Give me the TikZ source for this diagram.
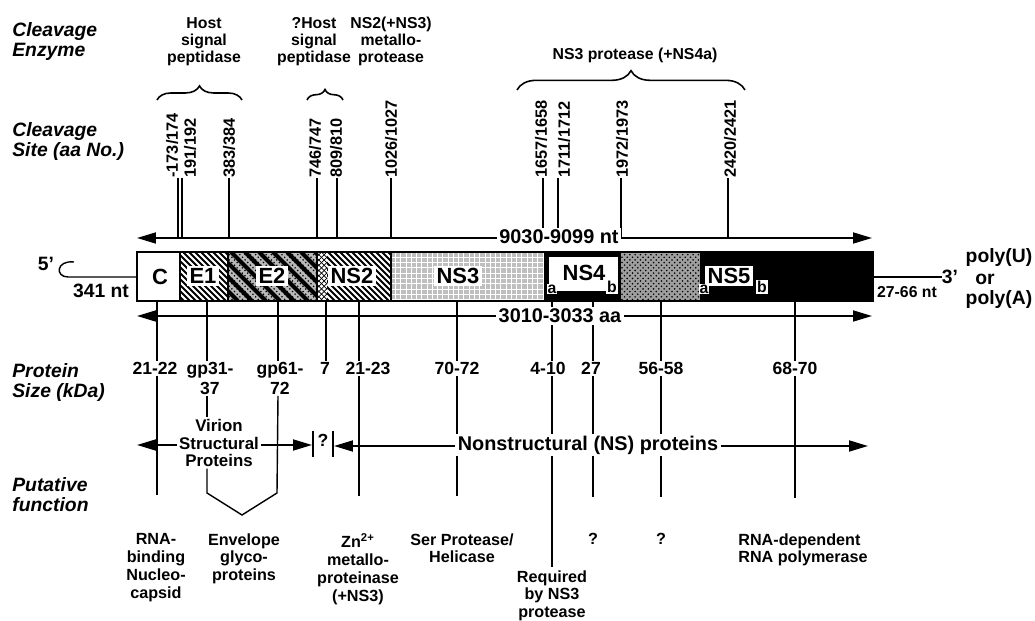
\documentclass[tikz,border=0pt]{standalone}
\usepackage{fontspec}
\setmainfont{Liberation Sans}
\usetikzlibrary{arrows.meta,positioning,decorations.pathreplacing,patterns}

\begin{document}
\begin{tikzpicture}[
    x=0.02cm, y=-0.02cm,
    every node/.style={font=\bfseries\fontsize{11}{12}\selectfont, inner sep=0pt},
    rowlabel/.style={anchor=north west, align=left, font=\bfseries\itshape\fontsize{11}{11.6}\selectfont},
    enzyme/.style={anchor=north, align=center, font=\bfseries\fontsize{9}{9.7}\selectfont},
    sitelabel/.style={rotate=90, anchor=west, font=\bfseries\fontsize{9.3}{10}\selectfont},
    genelabel/.style={fill=white, inner sep=1.5pt, font=\bfseries\fontsize{12.5}{13}\selectfont},
    sublabel/.style={fill=white, inner sep=0.6pt, font=\bfseries\fontsize{9}{9}\selectfont},
    sizelabel/.style={anchor=north, align=center, fill=white, inner sep=0.5pt, font=\bfseries\fontsize{10}{11.4}\selectfont},
    funclabel/.style={anchor=north, align=center, font=\bfseries\fontsize{9.2}{10.2}\selectfont},
    spanlabel/.style={fill=white, inner xsep=1.5pt, inner ysep=1pt, font=\bfseries\fontsize{11.3}{12}\selectfont},
    tick/.style={line width=0.8pt},
    span/.style={line width=1pt, {Triangle[length=3.8mm,width=2.2mm]}-{Triangle[length=3.8mm,width=2.2mm]}},
  ]
    \pgfmathsetmacro{\barT}{252}
    \pgfmathsetmacro{\barB}{301}
    \useasboundingbox (0,0) rectangle (1035,621);

    % ---- row titles ----
    \node[rowlabel] (enzRow)  at (12,22)  {Cleavage\\Enzyme};
    \node[rowlabel] (siteRow) at (12,122) {Cleavage\\Site (aa No.)};
    \node[rowlabel] (sizeRow) at (12,363) {Protein\\Size (kDa)};
    \node[rowlabel] (funcRow) at (12,477) {Putative\\function};

    % ---- cleavage enzymes ----
    \node[enzyme] (hostSP)  at (204,17) {Host\\signal\\peptidase};
    \node[enzyme] (qhostSP) at (314,17) {?Host\\signal\\peptidase};
    \node[enzyme] (ns2Pro)  at (391,17) {NS2(+NS3)\\metallo-\\protease};
    \node[enzyme] (ns3Pro)  at (635,48) {NS3 protease (+NS4a)};
    \coordinate (hostL) at (157,100);  \coordinate (hostR) at (242,100);
    \coordinate (qhostL) at (307,100); \coordinate (qhostR) at (343,100);
    \coordinate (ns3L) at (517,90);    \coordinate (ns3R) at (745,90);
    \draw[decorate, decoration={brace, amplitude=8pt}, line width=0.9pt] (hostL) -- (hostR);
    \draw[decorate, decoration={brace, amplitude=6pt}, line width=0.9pt] (qhostL) -- (qhostR);
    \draw[decorate, decoration={brace, amplitude=11pt}, line width=0.9pt] (ns3L) -- (ns3R);

    % ---- cleavage sites ----
    \coordinate (ntL) at (137,238);
    \coordinate (ntR) at (872,238);
    \foreach \sx/\lx/\ta/\tb/\nm in {178/172/-173/174/c1, 182/190/191/192/c2,
        229/229/383/384/c3, 317/315/746/747/c4, 337/336/809/810/c5,
        391/391/1026/1027/c6, 543/541/1657/1658/c7, 558/564/1711/1712/c8,
        621/622/1972/1973/c9, 728/730/2420/2421/c10}{
      \node[sitelabel] (\nm) at (\lx,178) {\ta/\tb};
      \draw[tick] (\nm.west -| \sx,0) -- (\sx,0 |- ntL);
    }
    \draw[span] (ntL) -- (ntR);
    \node[spanlabel] (ntLab) at (559,237) {9030-9099 nt};

    % ---- genome bar ----
    \fill[white] (137,\barT) rectangle (180,\barB);
    \begin{scope}
      \clip (180,\barT) rectangle (228,\barB);
      \foreach \s in {135,141,...,230}
        \draw[line width=1.1pt] (\s,\barT) -- ++(49,49);
    \end{scope}
    \fill[gray!55] (228,\barT) rectangle (317,\barB);
    \fill[pattern=crosshatch dots] (228,\barT) rectangle (317,\barB);
    \begin{scope}
      \clip (228,\barT) rectangle (317,\barB);
      \foreach \s in {175,189,...,320}
        \draw[line width=2.4pt] (\s,\barT) -- ++(49,49);
    \end{scope}
    \fill[pattern=north east lines] (317,\barT) rectangle (327,\barB);
    \fill[pattern=north west lines] (317,\barT) rectangle (327,\barB);
    \begin{scope}
      \clip (327,\barT) rectangle (391,\barB);
      \foreach \s in {280,286,...,395}
        \draw[line width=1.1pt] (\s,\barT) -- ++(49,49);
    \end{scope}
    \fill[gray!50] (391,\barT) rectangle (545,\barB);
    \fill[pattern=grid, pattern color=white] (391,\barT) rectangle (545,\barB);
    \fill[black] (545,\barT) rectangle (620,\barB);
    \fill[white] (549,257) rectangle (618,291);
    \fill[gray!75] (620,\barT) rectangle (700,\barB);
    \fill[pattern=crosshatch dots] (620,\barT) rectangle (700,\barB);
    \fill[black] (700,\barT) rectangle (873,\barB);
    \draw[line width=1pt] (137,\barT) rectangle (873,\barB);
    \foreach \s in {180,228,317,391,545,620}
      \draw[line width=0.6pt] (\s,\barT) -- (\s,\barB);

    \node[genelabel] (gC)   at (160,277) {C};
    \node[genelabel] (gE1)  at (203,276) {E1};
    \node[genelabel] (gE2)  at (272,276) {E2};
    \node[genelabel] (gNS2) at (352,276) {NS2};
    \node[genelabel] (gNS3) at (458,276) {NS3};
    \node[genelabel] (gNS4) at (584,273) {NS4};
    \node[sublabel] (gNS4a) at (552,289) {a};
    \node[sublabel] (gNS4b) at (612,287) {b};
    \node[genelabel] (gNS5) at (729,276) {NS5};
    \node[sublabel] (gNS5a) at (704,289) {a};
    \node[sublabel] (gNS5b) at (762,287) {b};

    % ---- ends ----
    \coordinate (barW) at (137,277);
    \coordinate (barE) at (873,277);
    \coordinate (hookTop) at (74,262);
    \node (five) at (46,264) {5'};
    \draw[tick] (hookTop) .. controls (56,260) and (55,277) .. (68,277) -- (barW);
    \node (len5) at (101,291) {341 nt};
    \node (three) at (950,277) {3'};
    \draw[tick] (barE) -- (three.west);
    \node (polyU) at (999,258) {poly(U)};
    \node (polyOr) at (985,279) {or};
    \node (polyA) at (999,300) {poly(A)};
    \node[font=\bfseries\fontsize{9}{10}\selectfont] (len3) at (907,292) {27-66 nt};

    % ---- protein size ----
    \foreach \tx/\lx/\txt/\nm in {157/155/21-22/C, 207/210/{gp31-\\37}/E1,
        278/280/{gp61-\\72}/E2, 326/325/7/Pseven, 359/368/21-23/NStwo,
        457/457/70-72/NSthree, 552/548/4-10/NSfourA, 593/591/27/NSfourB,
        661/661/56-58/NSfiveA, 795/795/68-70/NSfiveB}{
      \coordinate (t\nm) at (\tx,\barB);
      \node[sizelabel] (p\nm) at (\lx,361) {\txt};
      \draw[tick] (t\nm) -- (t\nm |- p\nm.north);
    }
    \coordinate (aaL) at (137,316);
    \coordinate (aaR) at (872,316);
    \draw[span] (aaL) -- (aaR);
    \node[spanlabel] (aaLab) at (560,316) {3010-3033 aa};

    % ---- structural / nonstructural ----
    \coordinate (stL) at (137,445);
    \coordinate (stR) at (312,445);
    \draw[span] (stL) -- (stR);
    \node[fill=white, inner sep=1pt, align=center, font=\bfseries\fontsize{9.6}{9.8}\selectfont]
      (virion) at (219,443) {Virion\\Structural\\Proteins};
    \coordinate (qTopL) at (313,431); \coordinate (qBotL) at (313,457);
    \coordinate (qTopR) at (333,431); \coordinate (qBotR) at (333,457);
    \draw[tick] (qTopL) -- (qBotL);
    \draw[tick] (qTopR) -- (qBotR);
    \node[font=\bfseries\fontsize{10}{11}\selectfont] (qmark) at (323,440) {?};

    \coordinate (envTip) at (242,515);
    \draw[tick] (tE1 |- pE1.south) -- (tE1 |- virion.north);
    \draw[tick] (tE1 |- virion.south) -- (207,493) -- (envTip) -- (277,493) -- (tE2 |- pE2.south);
    \foreach \nm/\ey in {C/495, NStwo/496, NSthree/496, NSfourA/567,
        NSfourB/497, NSfiveA/497, NSfiveB/498}
      \draw[tick] (t\nm |- p\nm.south) -- (t\nm |- 0,\ey);

    \coordinate (nsL) at (334,446);
    \coordinate (nsR) at (868,446);
    \draw[span] (nsL) -- (nsR);
    \node[spanlabel] (nsLab) at (588,445) {Nonstructural (NS) proteins};

    % ---- putative function ----
    \node[funclabel] (fC)    at (156,533) {RNA-\\binding\\Nucleo-\\capsid};
    \node[funclabel] (fE)    at (244,533) {Envelope\\glyco-\\proteins};
    \node[funclabel] (fNS2)  at (358,533) {Zn\textsuperscript{2+}\\metallo-\\proteinase\\(+NS3)};
    \node[funclabel] (fNS3)  at (462,533) {Ser Protease/\\Helicase};
    \node[funclabel] (fNS4a) at (552,570) {Required\\by NS3\\protease};
    \node[funclabel] (fNS4b) at (593,533) {?};
    \node[funclabel] (fNS5a) at (661,533) {?};
    \node[funclabel, anchor=north west, align=left] (fNS5b) at (738,533) {RNA-dependent\\RNA polymerase};
\end{tikzpicture}
\end{document}
